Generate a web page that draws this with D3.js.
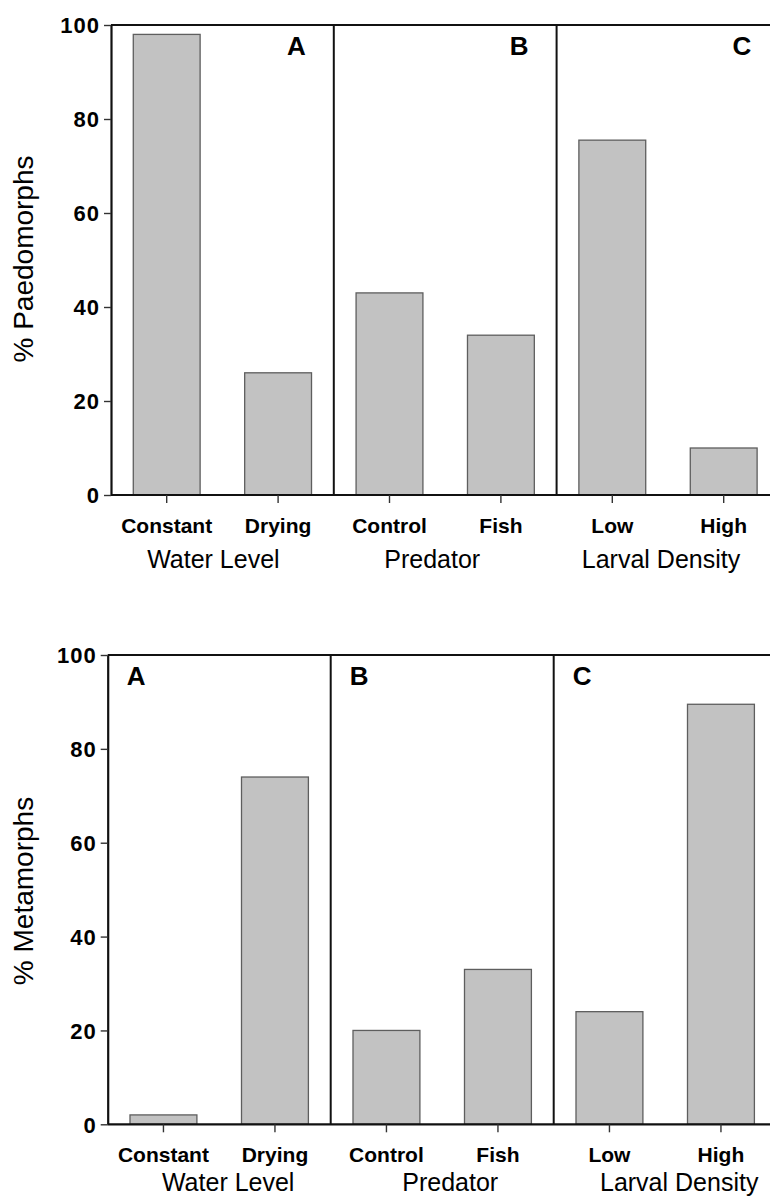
<!DOCTYPE html>
<html>
<head>
<meta charset="utf-8">
<script src="https://cdn.jsdelivr.net/npm/d3@7"></script>
<style>
  body { margin: 0; background: #fff; }
  svg { display: block; font-family: "Liberation Sans", Arial, sans-serif; }
</style>
</head>
<body>
<script>
// data
const categories = ['Constant', 'Drying', 'Control', 'Fish', 'Low', 'High'];
const groups = ['Water Level', 'Predator', 'Larval Density'];
const panelLetters = ['A', 'B', 'C'];
const paedomorphs = [98, 26, 43, 34, 75.5, 10];
const metamorphs = [2, 74, 20, 33, 24, 89.5];
const yTicks = [0, 20, 40, 60, 80, 100];

const W = 770, H = 1199;

const svg = d3.select('body').append('svg')
  .attr('width', W)
  .attr('height', H);

function drawChart(opt) {
  const g = svg.append('g');

  const x = d3.scaleBand()
    .domain(categories)
    .range([opt.left, opt.left + opt.step * categories.length])
    .paddingInner(0.4)
    .paddingOuter(0.2);

  const y = d3.scaleLinear()
    .domain([0, 100])
    .range([opt.bottom, opt.top]);

  const step = x.step();

  // bars
  g.selectAll('.bar')
    .data(opt.values)
    .enter()
    .append('rect')
    .attr('class', 'bar')
    .attr('x', (d, i) => x(categories[i]))
    .attr('y', d => y(d))
    .attr('width', x.bandwidth())
    .attr('height', d => y(0) - y(d))
    .attr('fill', '#c2c2c2')
    .attr('stroke', '#5e5e5e')
    .attr('stroke-width', 1.3);

  // top border line
  g.append('line')
    .attr('x1', opt.left).attr('x2', W)
    .attr('y1', y(100)).attr('y2', y(100))
    .attr('stroke', '#111').attr('stroke-width', 2);

  // panel dividers
  [2, 4].forEach(i => {
    const xd = x(categories[i]) - x.paddingOuter() * step;
    g.append('line')
      .attr('x1', xd).attr('x2', xd)
      .attr('y1', y(100)).attr('y2', y(0))
      .attr('stroke', '#111').attr('stroke-width', 2);
  });

  // x axis
  const xAxis = g.append('g')
    .attr('transform', `translate(0,${y(0)})`)
    .call(d3.axisBottom(x).tickSizeInner(8).tickSizeOuter(0).tickPadding(15));
  xAxis.select('.domain').attr('stroke', '#111').attr('stroke-width', 2.2)
    .attr('d', `M${opt.left},0H${W}`);
  xAxis.selectAll('.tick line').attr('stroke', '#333').attr('stroke-width', 1.4);
  xAxis.selectAll('.tick text')
    .attr('fill', '#000')
    .style('font-size', '21px')
    .style('font-weight', 'bold');

  // y axis
  const yAxis = g.append('g')
    .attr('transform', `translate(${opt.left},0)`)
    .call(d3.axisLeft(y).tickValues(yTicks).tickSizeInner(7).tickSizeOuter(0).tickPadding(4));
  yAxis.select('.domain').attr('stroke', '#111').attr('stroke-width', 2.2);
  yAxis.selectAll('.tick line').attr('stroke', '#333').attr('stroke-width', 1.4);
  yAxis.selectAll('.tick text')
    .attr('fill', '#000')
    .attr('dy', '0.36em')
    .style('font-size', '22px')
    .style('font-weight', 'bold')
    .style('letter-spacing', '1px');

  // group labels
  groups.forEach((name, i) => {
    const cx = (x(categories[2 * i]) + x(categories[2 * i + 1]) + x.bandwidth()) / 2;
    g.append('text')
      .attr('x', cx + opt.groupDx[i])
      .attr('y', y(0) + opt.groupDy)
      .attr('text-anchor', 'middle')
      .style('font-size', '25px')
      .text(name);
  });

  // panel letters
  panelLetters.forEach((L, i) => {
    const x0 = x(categories[2 * i]) - x.paddingOuter() * step;
    const x1 = x0 + 2 * step;
    g.append('text')
      .attr('x', opt.letterRight ? x1 - 28 : x0 + 19)
      .attr('y', y(100) + 30)
      .attr('text-anchor', opt.letterRight ? 'end' : 'start')
      .style('font-size', '26px')
      .style('font-weight', 'bold')
      .text(L);
  });

  // y axis title
  g.append('text')
    .attr('transform', `translate(33,${opt.titleY}) rotate(-90)`)
    .attr('text-anchor', 'middle')
    .style('font-size', '28px')
    .text(opt.title);
}

drawChart({
  values: paedomorphs,
  left: 111, step: 111.4,
  top: 25, bottom: 495,
  title: '% Paedomorphs', titleY: 259,
  letterRight: true,
  groupDx: [-9, -13, -7],
  groupDy: 73
});

drawChart({
  values: metamorphs,
  left: 107.7, step: 111.5,
  top: 655, bottom: 1124.3,
  title: '% Metamorphs', titleY: 891,
  letterRight: false,
  groupDx: [9, 8, 14],
  groupDy: 67
});
</script>
</body>
</html>
